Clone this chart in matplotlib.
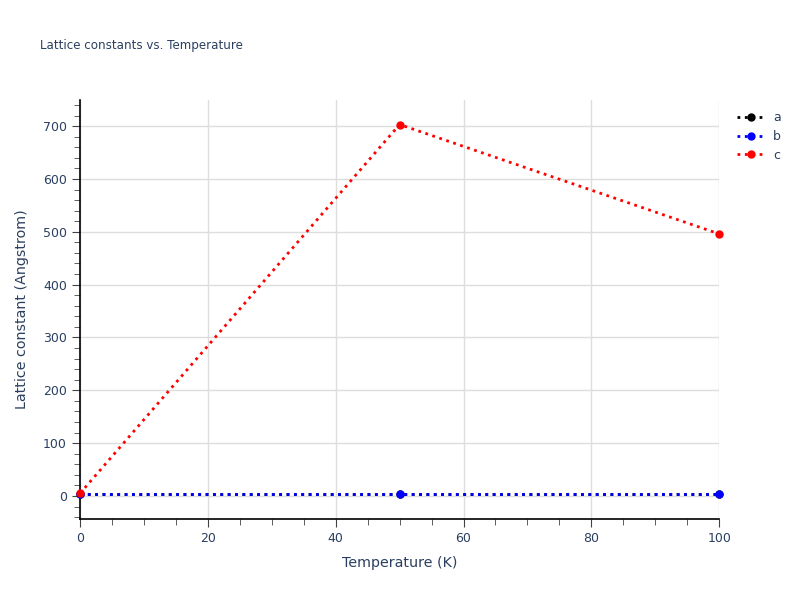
import numpy as np
import matplotlib.pyplot as plt
from matplotlib.ticker import MultipleLocator

# Lattice constants
temperature = [0, 50, 100]
a_vals = [3.0, 3.0, 3.0]
b_vals = [3.0, 3.0, 3.0]
c_vals = [5.0, 703.0, 496.0]

series_names = ["a", "b", "c"]
series_colors = ["black", "blue", "red"]

text_color = "#2a3f5f"

fig = plt.figure(figsize=(8, 6), dpi=100)
ax = fig.add_axes([0.1, 0.135, 0.799, 0.698])

for name, vals, col in zip(series_names, [a_vals, b_vals, c_vals], series_colors):
    ax.plot(temperature, vals, ":", color=col, linewidth=2, marker="o",
            markersize=5, label=name, clip_on=False, zorder=3)

ax.set_xlim(0, 100)
ax.set_ylim(-43.5, 749)
ax.xaxis.set_major_locator(MultipleLocator(20))
ax.xaxis.set_minor_locator(MultipleLocator(5))
ax.yaxis.set_major_locator(MultipleLocator(100))
ax.yaxis.set_minor_locator(MultipleLocator(20))

ax.grid(True, which="major", color="#dddddd", linewidth=1)
ax.set_axisbelow(True)
for side in ["top", "right"]:
    ax.spines[side].set_visible(False)
for side in ["left", "bottom"]:
    ax.spines[side].set_color("black")
    ax.spines[side].set_linewidth(1.2)

ax.tick_params(which="major", direction="out", length=6, color="#444444",
               labelcolor=text_color, labelsize=9)
ax.tick_params(which="minor", direction="out", length=4, color="#444444")

ax.set_xlabel("Temperature (K)", color=text_color, fontsize=10.3, labelpad=8)
ax.set_ylabel("Lattice constant (Angstrom)", color=text_color, fontsize=10.3, labelpad=10)

fig.text(0.05, 0.925, "Lattice constants vs. Temperature", color=text_color,
         fontsize=8.6, va="center", ha="left")

leg = ax.legend(loc="upper left", bbox_to_anchor=(1.02, 0.985), frameon=False,
                fontsize=9, handlelength=2.2, handletextpad=0.7, labelcolor=text_color,
                borderaxespad=0, labelspacing=0.45)

fig.savefig("out.png", dpi=100)
